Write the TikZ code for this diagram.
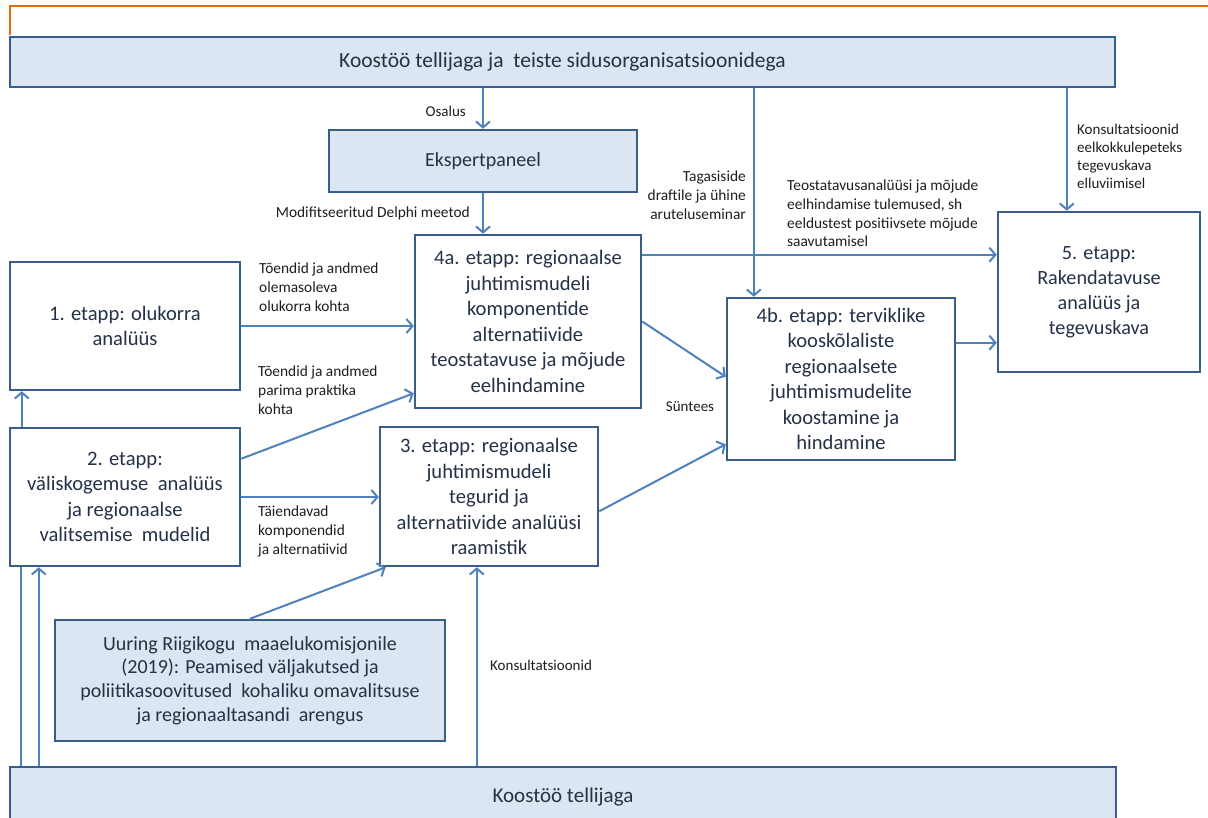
\documentclass[tikz,border=0pt]{standalone}
\usepackage{fontspec}
\setmainfont{Carlito}
\usetikzlibrary{arrows.meta,calc}
\definecolor{linec}{RGB}{79,129,189}
\definecolor{boxb}{RGB}{58,94,138}
\definecolor{boxf}{RGB}{220,230,242}
\definecolor{boxt}{RGB}{36,50,72}
\definecolor{labt}{RGB}{30,30,30}
\definecolor{orng}{RGB}{228,108,10}
\begin{document}
\begin{tikzpicture}[x=1pt,y=-1pt,
  box/.style={draw=boxb, line width=2.5pt, fill=white, inner sep=0pt, align=center, text=boxt, font=\fontsize{20.6}{25.5}\selectfont},
  bluebox/.style={box, fill=boxf},
  arr/.style={draw=linec, line width=2pt, -{Straight Barb[length=6pt,width=14pt]}},
  ln/.style={draw=linec, line width=2pt},
  lab/.style={text=labt, font=\fontsize{15.4}{18.6}\selectfont, inner sep=0pt, align=left},
  slab/.style={lab, font=\fontsize{15}{18}\selectfont}
]
\useasboundingbox (0,0) rectangle (1208,818);
\clip (0,0) rectangle (1208,818);
\fill[white] (0,0) rectangle (1208,818);

\draw[orng, line width=1.5pt] (10,35) -- (10,6) -- (1208,6);

% boxes
\node[bluebox, minimum width=1105pt, minimum height=50pt, font=\fontsize{21.5}{25}\selectfont] (top) at (562.5,62) {\raisebox{-2pt}{Koostöö tellijaga ja \ teiste sidusorganisatsioonidega}};
\node[bluebox, minimum width=308pt, minimum height=62pt, font=\fontsize{20}{25}\selectfont] (eksp) at (483,161) {Ekspertpaneel};
\node[box, minimum width=226pt, minimum height=173pt] (a4) at (528,321.5) {4a. etapp: regionaalse\\juhtimismudeli\\komponentide\\alternatiivide\\teostatavuse ja mõjude\\eelhindamine};
\node[box, minimum width=230pt, minimum height=128pt] (b1) at (125,326) {1. etapp: olukorra\\analüüs};
\node[box, minimum width=230pt, minimum height=138pt] (b2) at (125,497) {2. etapp:\\väliskogemuse \ analüüs\\ja regionaalse\\valitsemise \ mudelid};
\node[box, minimum width=218pt, minimum height=139pt] (b3) at (489,496.5) {3. etapp: regionaalse\\juhtimismudeli\\tegurid ja\\alternatiivide analüüsi\\raamistik};
\node[box, minimum width=228pt, minimum height=162pt] (b4) at (841,379) {4b. etapp: terviklike\\kooskõlaliste\\regionaalsete\\juhtimismudelite\\koostamine ja\\hindamine};
\node[box, minimum width=202pt, minimum height=160pt, font=\fontsize{20.2}{25}\selectfont] (b5) at (1099,292) {5. etapp:\\Rakendatavuse\\analüüs ja\\tegevuskava};
\node[bluebox, minimum width=390pt, minimum height=121pt, font=\fontsize{20}{23.7}\selectfont] (uu) at (250,680.5) {Uuring Riigikogu \ maaelukomisjonile\\(2019): Peamised väljakutsed ja\\poliitikasoovitused \ kohaliku omavalitsuse\\ja regionaaltasandi \ arengus};
\node[bluebox, minimum width=1106pt, minimum height=66pt, font=\fontsize{21}{25}\selectfont] (bot) at (563,800) {\raisebox{10pt}{Koostöö tellijaga}};

% coordinates
\coordinate (p4b) at ($(b4.north west)+(28,0)$);
\coordinate (p5) at ($(b5.north west)+(70,0)$);
\coordinate (b2a) at ($(b2.north east)+(0,32)$);
\coordinate (a4in) at ($(a4.south west)+(0,-16)$);
\coordinate (b2up) at ($(b2.north west)+(13,0)$);
\coordinate (l1) at ($(b2.south west)+(12,0)$);
\coordinate (l2) at ($(b2.south west)+(30,0)$);
\coordinate (b3in) at ($(b3.south west)+(7,0)$);
\coordinate (b3k) at ($(b3.south west)+(98,0)$);
\coordinate (b4in1) at ($(b4.north west)+(0,80)$);
\coordinate (b3out) at ($(b3.south east)+(0,-56)$);
\coordinate (b4in2) at ($(b4.south west)+(0,-17)$);
\coordinate (a4out) at ($(a4.north east)+(0,21)$);
\coordinate (b4out) at ($(b4.north east)+(0,46)$);

% connectors
\draw[arr] (top.south -| eksp.north) -- (eksp.north);
\draw[arr] (p4b |- top.south) -- (p4b);
\draw[arr] (p5 |- top.south) -- (p5);
\draw[arr] (eksp.south) -- (eksp.south |- a4.north);
\draw[arr] (b1.east) -- (b1.east -| a4.west);
\draw[arr] (b2a) -- (a4in);
\draw[arr] (b2.east) -- (b2.east -| b3.west);
\draw[arr] (b2up) -- (b2up |- b1.south);
\draw[ln] (l1 |- bot.north) -- (l1);
\draw[arr] (l2 |- bot.north) -- (l2);
\draw[arr] (uu.north) -- (b3in);
\draw[arr] (b3k |- bot.north) -- (b3k);
\draw[arr] (a4.east) -- (b4in1);
\draw[arr] (b3out) -- (b4in2);
\draw[arr] (a4out) -- (a4out -| b5.west);
\draw[arr] (b4out) -- (b4out -| b5.west);

% labels
\node[slab, anchor=east] (lOsalus) at (466,111) {Osalus};
\node[lab, anchor=east] (lDelphi) at (470,213) {Modifitseeritud Delphi meetod};
\node[lab, anchor=north east, align=right] (lTag) at (746,171) {Tagasiside\\draftile ja ühine\\aruteluseminar};
\node[slab, anchor=north west] (lKons1) at (1077,124) {Konsultatsioonid\\eelkokkulepeteks\\tegevuskava\\elluviimisel};
\node[lab, anchor=north west] (lTeo) at (787,180) {Teostatavusanalüüsi ja mõjude\\eelhindamise tulemused, sh\\eeldustest positiivsete mõjude\\saavutamisel};
\node[lab, anchor=north west] (lT1) at (259,263) {Tõendid ja andmed\\olemasoleva\\olukorra kohta};
\node[lab, anchor=north west] (lT2) at (258,366) {Tõendid ja andmed\\parima praktika\\kohta};
\node[lab, anchor=north west] (lT3) at (258,506) {Täiendavad\\komponendid\\ja alternatiivid};
\node[slab] (lSyn) at (690,407) {Süntees};
\node[slab, anchor=west] (lKons2) at (490,665) {Konsultatsioonid};
\end{tikzpicture}
\end{document}
